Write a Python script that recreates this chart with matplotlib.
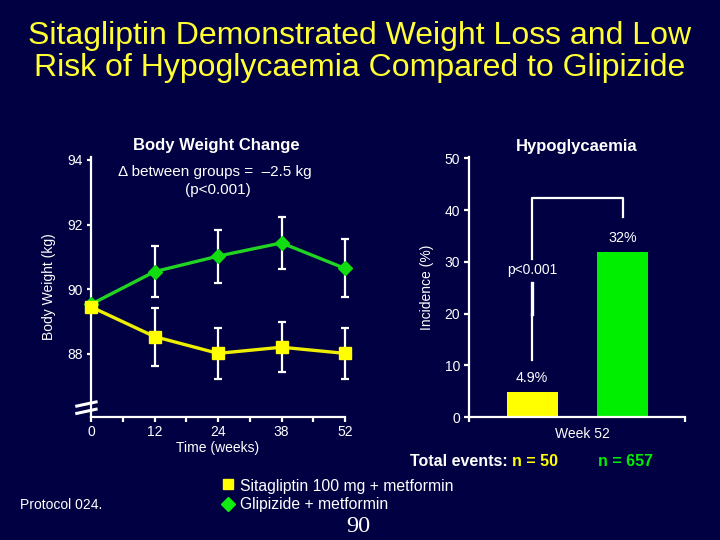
import matplotlib
matplotlib.use("Agg")
import matplotlib.pyplot as plt
from matplotlib.lines import Line2D

# ---- data ----
week_labels = ['0', '12', '24', '38', '52']
sita_weight = [89.45, 88.53, 88.01, 88.20, 88.01]
sita_err = [0.0, 0.90, 0.80, 0.78, 0.80]
glip_weight = [89.53, 90.54, 91.02, 91.43, 90.64]
glip_err = [0.0, 0.80, 0.82, 0.80, 0.90]
weight_ticks = [88, 90, 92, 94]

hypo_groups = ['Sitagliptin', 'Glipizide']
hypo_incidence = [4.9, 32]
hypo_labels = ['4.9%', '32%']
hypo_ticks = [0, 10, 20, 30, 40, 50]

BG = '#000042'
YEL = '#ffff00'
GRN_LINE = '#22d422'
GRN_BAR = '#00ee00'
WHITE = 'white'
TITLE_C = '#ffff33'

plt.rcParams['font.family'] = ['Liberation Sans', 'DejaVu Sans']

W, H = 720, 540
fig = plt.figure(figsize=(7.2, 5.4), dpi=100, facecolor=BG)

def fx(px):
    return px / W

def fy(py):
    return 1 - py / H

FS = 10

# Title
fig.text(fx(360), fy(36), 'Sitagliptin Demonstrated Weight Loss and Low',
         color=TITLE_C, fontsize=23, ha='center', va='center')
fig.text(fx(360), fy(68), 'Risk of Hypoglycaemia Compared to Glipizide',
         color=TITLE_C, fontsize=23, ha='center', va='center')

# ---------- left chart ----------
ax = fig.add_axes([fx(91), fy(417.3), fx(345) - fx(91), fy(156.7) - fy(417.3)])
ax.set_facecolor(BG)
x = list(range(len(week_labels)))
ax.errorbar(x[1:], sita_weight[1:], yerr=sita_err[1:], fmt='none', ecolor=WHITE,
            elinewidth=1.6, capsize=2.8, capthick=1.6, zorder=2, clip_on=False)
ax.errorbar(x[1:], glip_weight[1:], yerr=glip_err[1:], fmt='none', ecolor=WHITE,
            elinewidth=1.6, capsize=2.8, capthick=1.6, zorder=2, clip_on=False)
ax.plot(x, glip_weight, color=GRN_LINE, lw=2.4, marker='D', markersize=7,
        markerfacecolor='#11dd11', markeredgecolor='#11dd11', zorder=3, clip_on=False)
ax.plot(x, sita_weight, color='#eeee00', lw=2.4, marker='s', markersize=8,
        markerfacecolor=YEL, markeredgecolor=YEL, zorder=4, clip_on=False)
ax.set_xlim(0, 4)
ax.set_ylim(86.03, 94.1)
ax.set_xticks(x)
ax.set_xticklabels(week_labels)
ax.set_xticks([0.5, 1.5, 2.5, 3.5], minor=True)
ax.set_yticks(weight_ticks)
ax.set_yticklabels([str(t) for t in weight_ticks])
for s in ['top', 'right']:
    ax.spines[s].set_visible(False)
for s in ['left', 'bottom']:
    ax.spines[s].set_color(WHITE)
    ax.spines[s].set_linewidth(1.6)
ax.tick_params(axis='both', which='both', colors=WHITE, direction='out',
               width=1.6, labelsize=FS, labelcolor=WHITE)
ax.tick_params(axis='x', which='major', length=3.8, pad=2)
ax.tick_params(axis='x', which='minor', length=3.8)
ax.tick_params(axis='y', length=3.2, pad=3)
ax.set_xlabel('Time (weeks)', color=WHITE, fontsize=FS, labelpad=1)
ax.set_ylabel('Body Weight (kg)', color=WHITE, fontsize=FS, labelpad=8)
# axis break marks
for y0 in (0.015, 0.043):
    ax.plot([-0.056, 0.020], [y0, y0 + 0.016], transform=ax.transAxes,
            color=WHITE, lw=2.2, clip_on=False, zorder=5)

fig.text(fx(216), fy(145), 'Body Weight Change', color=WHITE, fontsize=12,
         fontweight='bold', ha='center', va='center')
fig.text(fx(215), fy(172), '\u0394 between groups =  \u20132.5 kg', color=WHITE,
         fontsize=11, ha='center', va='center')
fig.text(fx(218), fy(190), '(p<0.001)', color=WHITE, fontsize=11,
         ha='center', va='center')

# ---------- right chart ----------
ax2 = fig.add_axes([fx(469.3), fy(417.3), fx(685) - fx(469.3), fy(156.7) - fy(417.3)])
ax2.set_facecolor(BG)
bx = [0, 1]
ax2.bar(bx, hypo_incidence, width=0.565, color=[YEL, GRN_BAR], zorder=2)
for xi, v, lab in zip(bx, hypo_incidence, hypo_labels):
    ax2.text(xi, v + 2.7, lab, color=WHITE, fontsize=10.3, ha='center', va='center')
ax2.set_xlim(-0.697, 1.692)
ax2.set_ylim(0, 50.3)
ax2.set_yticks(hypo_ticks)
ax2.set_yticklabels([str(t) for t in hypo_ticks])
ax2.set_xticks([-0.697, 1.692])
ax2.set_xticklabels(['', ''])
for s in ['top', 'right']:
    ax2.spines[s].set_visible(False)
for s in ['left', 'bottom']:
    ax2.spines[s].set_color(WHITE)
    ax2.spines[s].set_linewidth(1.6)
ax2.tick_params(axis='both', colors=WHITE, direction='out', width=1.6,
                length=3.5, labelsize=FS, labelcolor=WHITE, pad=3)
ax2.set_ylabel('Incidence (%)', color=WHITE, fontsize=FS, labelpad=8)
# significance bracket
bk = dict(color=WHITE, lw=1.6, zorder=3)
ax2.plot([0, 0], [11.0, 20.0], **bk)
ax2.plot([0, 0], [20.0, 26.0], color=WHITE, lw=2.4, zorder=3)
ax2.plot([0, 0, 1, 1], [30.6, 42.3, 42.3, 38.6], **bk)
ax2.text(0, 28.4, 'p<0.001', color=WHITE, fontsize=FS, ha='center', va='center')

fig.text(fx(577), fy(146), 'Hypoglycaemia', color=WHITE, fontsize=12,
         fontweight='bold', ha='center', va='center')
fig.text(fx(582), fy(434), 'Week 52', color=WHITE, fontsize=FS, ha='center', va='center')
fig.text(fx(410), fy(461), 'Total events: ', color=WHITE, fontsize=11.5,
         fontweight='bold', ha='left', va='center')
fig.text(fx(535), fy(461), 'n = 50', color=YEL, fontsize=11.5,
         fontweight='bold', ha='center', va='center')
fig.text(fx(625), fy(461), 'n = 657', color=GRN_BAR, fontsize=11.5,
         fontweight='bold', ha='center', va='center')

# ---------- legend / footer ----------
fig.add_artist(Line2D([fx(228)], [fy(484)], marker='s', markersize=7.5,
                      color=YEL, linestyle='none', transform=fig.transFigure))
fig.add_artist(Line2D([fx(228)], [fy(504)], marker='D', markersize=7,
                      color='#11ee11', linestyle='none', transform=fig.transFigure))
fig.text(fx(240), fy(487), 'Sitagliptin 100 mg + metformin', color=WHITE,
         fontsize=11.3, ha='left', va='center')
fig.text(fx(240), fy(505), 'Glipizide + metformin', color=WHITE,
         fontsize=11.3, ha='left', va='center')
fig.text(fx(20), fy(505), 'Protocol 024.', color=WHITE, fontsize=10,
         ha='left', va='center')
fig.text(fx(358), fy(526), '90', color=WHITE, fontsize=17.5,
         family=['Liberation Serif', 'DejaVu Serif'], ha='center', va='center')

fig.savefig('out.png', dpi=100, facecolor=BG)
